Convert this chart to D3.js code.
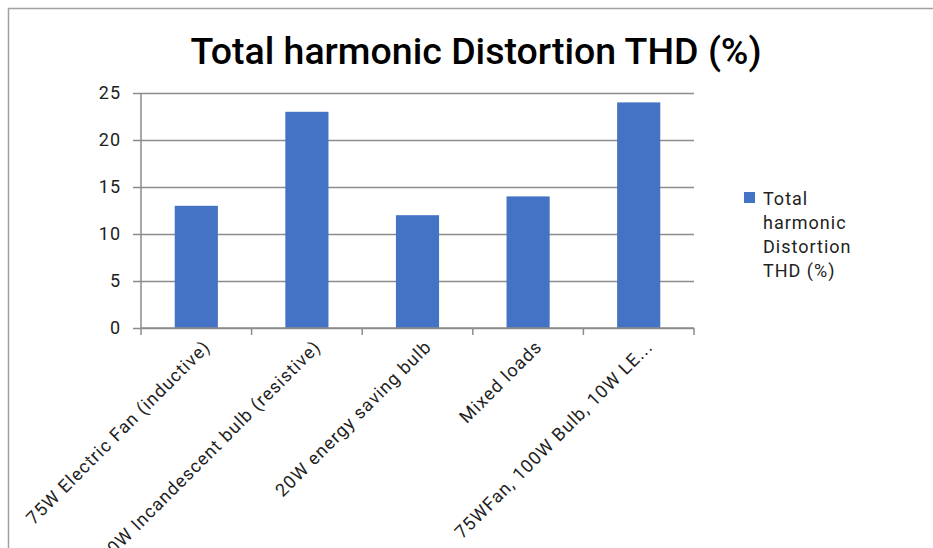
<!DOCTYPE html>
<html>
<head>
<meta charset="utf-8">
<script src="https://cdn.jsdelivr.net/npm/d3@7/dist/d3.min.js"></script>
<style>
  html, body { margin: 0; padding: 0; background: #fff; }
  svg { display: block; font-family: Roboto, "Noto Sans", sans-serif; }
</style>
</head>
<body>
<svg id="chart" width="933" height="548"></svg>
<script>
// Load categories and measured THD values
const categories = [
  "75W Electric Fan (inductive)",
  "100W Incandescent bulb (resistive)",
  "20W energy saving bulb",
  "Mixed loads",
  "75WFan, 100W Bulb, 10W LE..."
];
const thdValues = [13, 23, 12, 14, 24];
const yTicks = [0, 5, 10, 15, 20, 25];
const legendLines = ["Total", "harmonic", "Distortion", "THD (%)"];
const titleText = "Total harmonic Distortion THD (%)";

const svg = d3.select("#chart");
const W = 933, H = 548;
const labelFont = 18, labelSpacing = "1px";

// Chart frame
svg.append("rect").attr("x", 0).attr("y", 0).attr("width", W).attr("height", H).attr("fill", "#fff");
svg.append("path")
  .attr("d", `M8.5,${H} V8.5 H${W}`)
  .attr("fill", "none").attr("stroke", "#a0a0a0").attr("stroke-width", 1.5);

const plot = { left: 141, right: 694, top: 93, bottom: 328 };

const x = d3.scaleBand().domain(categories).range([plot.left, plot.right]).paddingInner(0.61).paddingOuter(0.305);
const xEdge = d3.scaleBand().domain(categories).range([plot.left, plot.right]);
const y = d3.scaleLinear().domain([0, 25]).range([plot.bottom, plot.top]);

// Title
svg.append("text")
  .attr("x", 476).attr("y", 64)
  .attr("text-anchor", "middle")
  .attr("font-size", 37.5).attr("font-weight", 500)
  .attr("fill", "#000")
  .text(titleText);

// Horizontal gridlines with short outside ticks
const yAxis = d3.axisLeft(y).tickValues(yTicks).tickSize(-(plot.right - plot.left)).tickPadding(12);
const gy = svg.append("g").attr("transform", `translate(${plot.left},0)`).call(yAxis);
gy.select(".domain").remove();
gy.selectAll(".tick line").attr("stroke", "#8c8c8c").attr("stroke-width", 1.5).attr("x1", -8);
gy.selectAll(".tick text")
  .attr("font-size", labelFont).attr("letter-spacing", labelSpacing)
  .attr("fill", "#222").attr("font-family", "Roboto, sans-serif").attr("x", -20);

// Bars
svg.append("g").selectAll("rect")
  .data(thdValues)
  .join("rect")
  .attr("x", (d, i) => x(categories[i]))
  .attr("width", x.bandwidth())
  .attr("y", d => y(d))
  .attr("height", d => y(0) - y(d))
  .attr("fill", "#4472c4");

// Vertical axis line
svg.append("line")
  .attr("x1", plot.left).attr("x2", plot.left)
  .attr("y1", plot.top).attr("y2", plot.bottom + 7)
  .attr("stroke", "#8c8c8c").attr("stroke-width", 1.5);

// Category axis: baseline plus boundary ticks
svg.append("line")
  .attr("x1", plot.left).attr("x2", plot.right)
  .attr("y1", plot.bottom).attr("y2", plot.bottom)
  .attr("stroke", "#8c8c8c").attr("stroke-width", 1.5);
const edges = categories.map(c => xEdge(c) + xEdge.bandwidth());
svg.append("g").selectAll("line")
  .data(edges)
  .join("line")
  .attr("x1", d => d).attr("x2", d => d)
  .attr("y1", plot.bottom).attr("y2", plot.bottom + 7)
  .attr("stroke", "#8c8c8c").attr("stroke-width", 1.5);

// Rotated category labels
svg.append("g").selectAll("text")
  .data(categories)
  .join("text")
  .attr("transform", c => `translate(${x(c) + x.bandwidth() / 2 + 15},${plot.bottom + 20}) rotate(-45)`)
  .attr("text-anchor", "end")
  .attr("font-size", labelFont)
  .attr("letter-spacing", labelSpacing)
  .attr("fill", "#222")
  .text(c => c);

// Legend
const lg = svg.append("g").attr("transform", "translate(744,192)");
lg.append("rect").attr("width", 11).attr("height", 11).attr("fill", "#4472c4");
lg.append("text")
  .attr("font-size", labelFont).attr("letter-spacing", labelSpacing).attr("fill", "#222")
  .selectAll("tspan")
  .data(legendLines)
  .join("tspan")
  .attr("x", 19)
  .attr("y", (d, i) => 13 + i * 24)
  .text(d => d);
</script>
</body>
</html>
